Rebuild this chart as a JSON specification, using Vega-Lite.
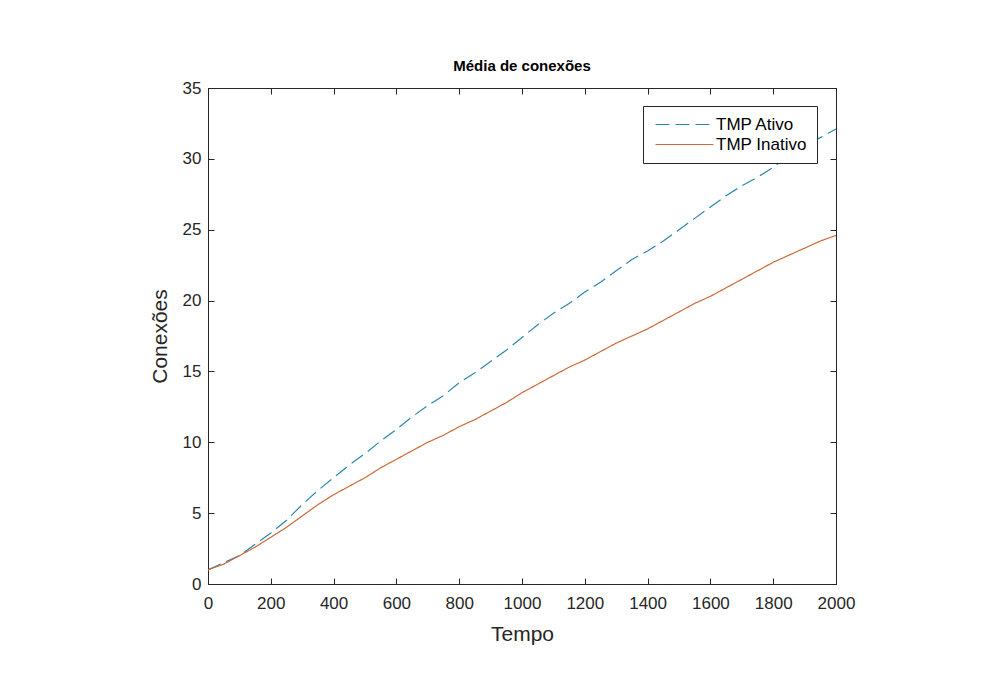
{
  "$schema": "https://vega.github.io/schema/vega-lite/v6.json",
  "autosize": {"type": "none"},
  "width": 628,
  "height": 496,
  "padding": {"left": 208, "top": 88, "right": 160, "bottom": 93},
  "background": "white",
  "title": {"text": "Média de conexões", "fontSize": 15, "fontWeight": "bold", "font": "Liberation Sans", "color": "#000000", "offset": 5, "anchor": "middle"},
  "config": {
    "view": {"stroke": "#262626", "strokeWidth": 1},
    "axis": {"domainColor": "#262626", "tickColor": "#262626", "labelColor": "#262626", "titleColor": "#262626", "labelFont": "Liberation Sans", "titleFont": "Liberation Sans", "labelFontSize": 17, "titleFontSize": 21, "titleFontWeight": "normal", "grid": false, "tickSize": -6, "domainWidth": 1, "labelFlush": false, "labelOverlap": false}
  },
  "data": {"values": [
    {"t":0,"v":1.0,"s":"TMP Ativo"},{"t":50,"v":1.5,"s":"TMP Ativo"},{"t":100,"v":2.0,"s":"TMP Ativo"},{"t":150,"v":2.8,"s":"TMP Ativo"},{"t":200,"v":3.6,"s":"TMP Ativo"},{"t":250,"v":4.5,"s":"TMP Ativo"},{"t":300,"v":5.6,"s":"TMP Ativo"},{"t":350,"v":6.6,"s":"TMP Ativo"},{"t":400,"v":7.5,"s":"TMP Ativo"},{"t":450,"v":8.4,"s":"TMP Ativo"},{"t":500,"v":9.2,"s":"TMP Ativo"},{"t":550,"v":10.1,"s":"TMP Ativo"},{"t":600,"v":10.9,"s":"TMP Ativo"},{"t":650,"v":11.8,"s":"TMP Ativo"},{"t":700,"v":12.6,"s":"TMP Ativo"},{"t":750,"v":13.3,"s":"TMP Ativo"},{"t":800,"v":14.2,"s":"TMP Ativo"},{"t":850,"v":14.9,"s":"TMP Ativo"},{"t":900,"v":15.7,"s":"TMP Ativo"},{"t":950,"v":16.5,"s":"TMP Ativo"},{"t":1000,"v":17.4,"s":"TMP Ativo"},{"t":1050,"v":18.3,"s":"TMP Ativo"},{"t":1100,"v":19.1,"s":"TMP Ativo"},{"t":1150,"v":19.8,"s":"TMP Ativo"},{"t":1200,"v":20.6,"s":"TMP Ativo"},{"t":1250,"v":21.3,"s":"TMP Ativo"},{"t":1300,"v":22.1,"s":"TMP Ativo"},{"t":1350,"v":22.9,"s":"TMP Ativo"},{"t":1400,"v":23.5,"s":"TMP Ativo"},{"t":1450,"v":24.2,"s":"TMP Ativo"},{"t":1500,"v":25.0,"s":"TMP Ativo"},{"t":1550,"v":25.8,"s":"TMP Ativo"},{"t":1600,"v":26.6,"s":"TMP Ativo"},{"t":1650,"v":27.4,"s":"TMP Ativo"},{"t":1700,"v":28.1,"s":"TMP Ativo"},{"t":1750,"v":28.7,"s":"TMP Ativo"},{"t":1800,"v":29.4,"s":"TMP Ativo"},{"t":1850,"v":30.2,"s":"TMP Ativo"},{"t":1900,"v":30.9,"s":"TMP Ativo"},{"t":1950,"v":31.5,"s":"TMP Ativo"},{"t":2000,"v":32.1,"s":"TMP Ativo"},
    {"t":0,"v":1.0,"s":"TMP Inativo"},{"t":50,"v":1.4,"s":"TMP Inativo"},{"t":100,"v":2.0,"s":"TMP Inativo"},{"t":150,"v":2.6,"s":"TMP Inativo"},{"t":200,"v":3.3,"s":"TMP Inativo"},{"t":250,"v":4.0,"s":"TMP Inativo"},{"t":300,"v":4.8,"s":"TMP Inativo"},{"t":350,"v":5.6,"s":"TMP Inativo"},{"t":400,"v":6.3,"s":"TMP Inativo"},{"t":450,"v":6.9,"s":"TMP Inativo"},{"t":500,"v":7.5,"s":"TMP Inativo"},{"t":550,"v":8.2,"s":"TMP Inativo"},{"t":600,"v":8.8,"s":"TMP Inativo"},{"t":650,"v":9.4,"s":"TMP Inativo"},{"t":700,"v":10.0,"s":"TMP Inativo"},{"t":750,"v":10.5,"s":"TMP Inativo"},{"t":800,"v":11.1,"s":"TMP Inativo"},{"t":850,"v":11.6,"s":"TMP Inativo"},{"t":900,"v":12.2,"s":"TMP Inativo"},{"t":950,"v":12.8,"s":"TMP Inativo"},{"t":1000,"v":13.5,"s":"TMP Inativo"},{"t":1050,"v":14.1,"s":"TMP Inativo"},{"t":1100,"v":14.7,"s":"TMP Inativo"},{"t":1150,"v":15.3,"s":"TMP Inativo"},{"t":1200,"v":15.8,"s":"TMP Inativo"},{"t":1250,"v":16.4,"s":"TMP Inativo"},{"t":1300,"v":17.0,"s":"TMP Inativo"},{"t":1350,"v":17.5,"s":"TMP Inativo"},{"t":1400,"v":18.0,"s":"TMP Inativo"},{"t":1450,"v":18.6,"s":"TMP Inativo"},{"t":1500,"v":19.2,"s":"TMP Inativo"},{"t":1550,"v":19.8,"s":"TMP Inativo"},{"t":1600,"v":20.3,"s":"TMP Inativo"},{"t":1650,"v":20.9,"s":"TMP Inativo"},{"t":1700,"v":21.5,"s":"TMP Inativo"},{"t":1750,"v":22.1,"s":"TMP Inativo"},{"t":1800,"v":22.7,"s":"TMP Inativo"},{"t":1850,"v":23.2,"s":"TMP Inativo"},{"t":1900,"v":23.7,"s":"TMP Inativo"},{"t":1950,"v":24.2,"s":"TMP Inativo"},{"t":2000,"v":24.6,"s":"TMP Inativo"}
  ]},
  "layer": [
    {
      "mark": {"type": "line", "strokeWidth": 1.2},
      "encoding": {
        "x": {"field": "t", "type": "quantitative", "scale": {"domain": [0, 2000], "nice": false}, "axis": {"title": "Tempo", "values": [0,200,400,600,800,1000,1200,1400,1600,1800,2000], "format": "d", "labelPadding": 17, "titlePadding": 12}},
        "y": {"field": "v", "type": "quantitative", "scale": {"domain": [0, 35], "nice": false}, "axis": {"title": "Conexões", "values": [0,5,10,15,20,25,30,35], "labelPadding": 13, "titlePadding": 12}},
        "color": {"field": "s", "type": "nominal", "scale": {"domain": ["TMP Ativo", "TMP Inativo"], "range": ["#2b87a8", "#cd6a3a"]}, "legend": {"title": null, "orient": "none", "legendX": 435, "legendY": 18, "symbolType": "M0,0H8", "symbolSize": 210, "symbolStrokeWidth": 1.2, "symbolOffset": -6, "labelFont": "Liberation Sans", "labelFontSize": 17, "labelColor": "#000000", "strokeColor": "#262626", "fillColor": "white", "padding": 10, "rowPadding": 2, "labelOffset": 52}},
        "strokeDash": {"field": "s", "type": "nominal", "scale": {"domain": ["TMP Ativo", "TMP Inativo"], "range": [[14, 6], [1, 0]]}, "legend": null}
      }
    },
    {
      "mark": {"type": "line", "strokeOpacity": 0},
      "encoding": {
        "x": {"field": "t", "type": "quantitative", "scale": {"domain": [0, 2000], "nice": false}, "axis": {"orient": "top", "title": null, "labels": false, "values": [0,200,400,600,800,1000,1200,1400,1600,1800,2000]}},
        "y": {"field": "v", "type": "quantitative", "scale": {"domain": [0, 35], "nice": false}, "axis": {"orient": "right", "title": null, "labels": false, "values": [0,5,10,15,20,25,30,35]}},
        "detail": {"field": "s", "type": "nominal"}
      }
    }
  ],
  "resolve": {"axis": {"x": "independent", "y": "independent"}}
}
